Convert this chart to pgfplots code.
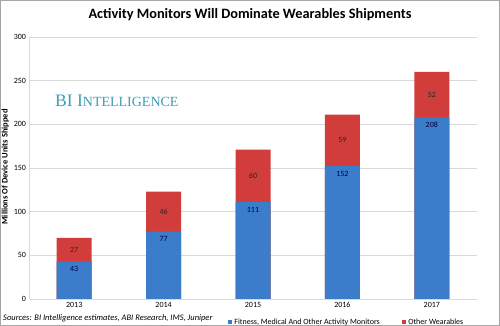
\documentclass[border=0pt]{standalone}
\usepackage{pgfplots}
\usepackage{pgfplotstable}
\pgfplotsset{compat=1.18}
\usepackage{fontspec}
\setmainfont{Carlito}
\newfontfamily\bifont{Liberation Serif}
\definecolor{barblue}{HTML}{3B7DCB}
\definecolor{barred}{HTML}{D13D3B}
\definecolor{biteal}{HTML}{3A9DB8}
\definecolor{gridgray}{HTML}{D9D9D9}
\pgfplotstableread{
x a b
0 43 27
1 77 46
2 111 60
3 152 59
4 208 52
}\data
\begin{document}
\begin{tikzpicture}[x=1pt,y=1pt]
\path[use as bounding box] (0,0) rectangle (500,326);
\draw[gray!70, line width=1pt] (0.5,0.5) rectangle (499.5,325.5);
\node[font=\fontsize{14.3}{16}\selectfont\bfseries] at (250,311) {Activity Monitors Will Dominate Wearables Shipments};
\begin{axis}[
  at={(33,31)}, anchor=south west,
  scale only axis, width=447pt, height=262pt,
  ybar, bar width=35pt, bar shift=0pt,
  xmin=-0.5, xmax=4.5, ymin=0, ymax=300,
  xtick={0,1,2,3,4}, xticklabels={2013,2014,2015,2016,2017},
  ytick={0,50,100,150,200,250,300},
  ymajorgrids, grid style={gridgray, line width=0.6pt},
  axis x line*=bottom, axis y line*=left,
  axis line style={gridgray, line width=0.6pt},
  major tick length=0pt,
  tick label style={font=\fontsize{8}{9}\selectfont},
  /pgf/number format/assume math mode=true,
  ylabel={Millions Of Device Units Shipped},
  ylabel style={font=\fontsize{8.5}{9}\selectfont\bfseries, at={(axis description cs:-0.054,0.504)}, anchor=center},
  legend style={at={(axis description cs:0.437,-0.088)}, anchor=west, draw=none, fill=none,
     legend columns=2, font=\fontsize{8}{9}\selectfont,
     /tikz/every even column/.append style={column sep=20pt}},
  legend image code/.code={\fill[#1] (0pt,-2.2pt) rectangle (4.4pt,2.2pt);},
  legend cell align=left,
]
% total height (red shows above blue)
\addplot[fill=barred, draw=none, forget plot]
  table[x=x, y expr=\thisrow{a}+\thisrow{b}]{\data};
\addplot[fill=barblue, draw=none,
  nodes near coords, point meta=explicit,
  nodes near coords style={font=\fontsize{8}{9}\selectfont, text=black!75!blue, anchor=north, yshift=-1.5pt}]
  table[x=x, y=a, meta=a]{\data};
\addlegendentry{Fitness, Medical And Other Activity Monitors}
\addlegendimage{fill=barred, draw=none}
\addlegendentry{Other Wearables}
% red segment labels at the middle of each red segment
\addplot[only marks, mark=none, forget plot,
  nodes near coords, point meta=explicit,
  nodes near coords style={font=\fontsize{8}{9}\selectfont, text=black!85, anchor=center}]
  table[x=x, y expr=\thisrow{a}+0.5*\thisrow{b}, meta=b]{\data};
\end{axis}
\node[anchor=west, inner sep=0pt, font=\bifont\color{biteal}] at (55,225) {{\fontsize{17.5}{19}\selectfont BI I}{\fontsize{14}{16}\selectfont NTELLIGENCE}};
\node[anchor=west, inner sep=0pt, font=\fontsize{8.5}{10}\selectfont\itshape] at (3,8) {Sources: BI Intelligence estimates, ABI Research, IMS, Juniper};
\end{tikzpicture}
\end{document}
